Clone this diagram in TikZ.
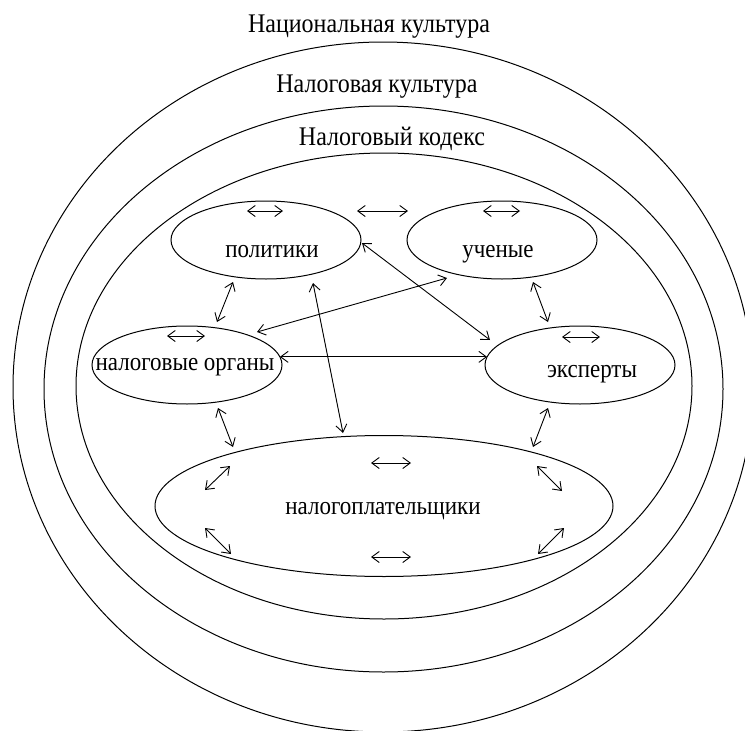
\documentclass[tikz,border=0pt]{standalone}
\usepackage{fontspec}
\setmainfont{Liberation Serif}
\usetikzlibrary{shapes.geometric,arrows.meta}
\newcommand\tallx[1]{\scalebox{1}[1.12]{#1}}
\begin{document}
\begin{tikzpicture}[x=1pt,y=-1pt,
  ring/.style={draw, ellipse, line width=1pt, inner sep=0pt, outer sep=0pt},
  lbl/.style={font=\fontsize{23}{27}\selectfont, anchor=base, inner sep=0pt},
  ttl/.style={font=\fontsize{24}{28}\selectfont, anchor=base, inner sep=0pt},
  dbl/.style={{Straight Barb[length=7.5pt,width=11pt]}-{Straight Barb[length=7.5pt,width=11pt]}, line width=0.9pt}]
\useasboundingbox (0,0) rectangle (745,731);
% concentric rings
\node[ring, minimum width=740pt, minimum height=690pt] (nat) at (383,387) {};
\node[ring, minimum width=679pt, minimum height=566pt] (cult) at (383.5,389) {};
\node[ring, minimum width=616pt, minimum height=466pt] (code) at (384,386) {};
% titles
\node[ttl] (natt) at (369,32) {\tallx{Национальная культура}};
\node[ttl] (cultt) at (377,92) {\tallx{Налоговая культура}};
\node[ttl] (codet) at (392,145) {\tallx{Налоговый кодекс}};
% actor ellipses
\node[ring, minimum width=190pt, minimum height=78pt] (pol) at (266,240) {};
\node[ring, minimum width=190pt, minimum height=78pt] (uch) at (502,240) {};
\node[ring, minimum width=190pt, minimum height=78pt] (nal) at (187,365) {};
\node[ring, minimum width=190pt, minimum height=78pt] (exp) at (580,365) {};
\node[ring, minimum width=458pt, minimum height=141pt] (pay) at (384,506) {};
% actor labels
\node[lbl] (polt) at (272,257) {\tallx{политики}};
\node[lbl] (ucht) at (498,257) {\tallx{ученые}};
\node[lbl] (nalt) at (185,370) {\tallx{налоговые органы}};
\node[lbl] (expt) at (592,377) {\tallx{эксперты}};
\node[lbl] (payt) at (383,514) {\tallx{налогоплательщики}};
% arrows inside actor ellipses
\coordinate (pi1) at (247,211); \coordinate (pi2) at (283,211);
\coordinate (ui1) at (483,211); \coordinate (ui2) at (520,211);
\coordinate (ni1) at (167,336); \coordinate (ni2) at (205,336);
\coordinate (ei1) at (562,337); \coordinate (ei2) at (600,337);
\draw[dbl] (pi1) -- (pi2);
\draw[dbl] (ui1) -- (ui2);
\draw[dbl] (ni1) -- (ni2);
\draw[dbl] (ei1) -- (ei2);
% arrows inside taxpayers
\coordinate (t1) at (371,463); \coordinate (t2) at (411,463);
\coordinate (b1) at (371,557); \coordinate (b2) at (411,557);
\coordinate (ul1) at (205,490); \coordinate (ul2) at (230,466);
\coordinate (ur1) at (537,466); \coordinate (ur2) at (562,491);
\coordinate (ll1) at (205,528); \coordinate (ll2) at (231,554);
\coordinate (lr1) at (538,554); \coordinate (lr2) at (564,528);
\draw[dbl] (t1) -- (t2);
\draw[dbl] (b1) -- (b2);
\draw[dbl] (ul1) -- (ul2);
\draw[dbl] (ur1) -- (ur2);
\draw[dbl] (ll1) -- (ll2);
\draw[dbl] (lr1) -- (lr2);
% connectors between actors
\coordinate (pu1) at (357,211); \coordinate (pu2) at (408,211);
\coordinate (pn1) at (233,282); \coordinate (pn2) at (217,322);
\coordinate (ue1) at (533,282); \coordinate (ue2) at (548,322);
\coordinate (pe1) at (362,243); \coordinate (pe2) at (490,340);
\coordinate (un1) at (447,278); \coordinate (un2) at (257,332);
\coordinate (ppy1) at (313,283); \coordinate (ppy2) at (343,433);
\coordinate (npy1) at (218,408); \coordinate (npy2) at (233,447);
\coordinate (epy1) at (548,408); \coordinate (epy2) at (533,447);
\draw[dbl] (pu1) -- (pu2);
\draw[dbl] (pn1) -- (pn2);
\draw[dbl] (ue1) -- (ue2);
\draw[dbl] (pe1) -- (pe2);
\draw[dbl] (un1) -- (un2);
\draw[dbl] (nal.5) -- (exp.175);
\draw[dbl] (ppy1) -- (ppy2);
\draw[dbl] (npy1) -- (npy2);
\draw[dbl] (epy1) -- (epy2);
\end{tikzpicture}
\end{document}
